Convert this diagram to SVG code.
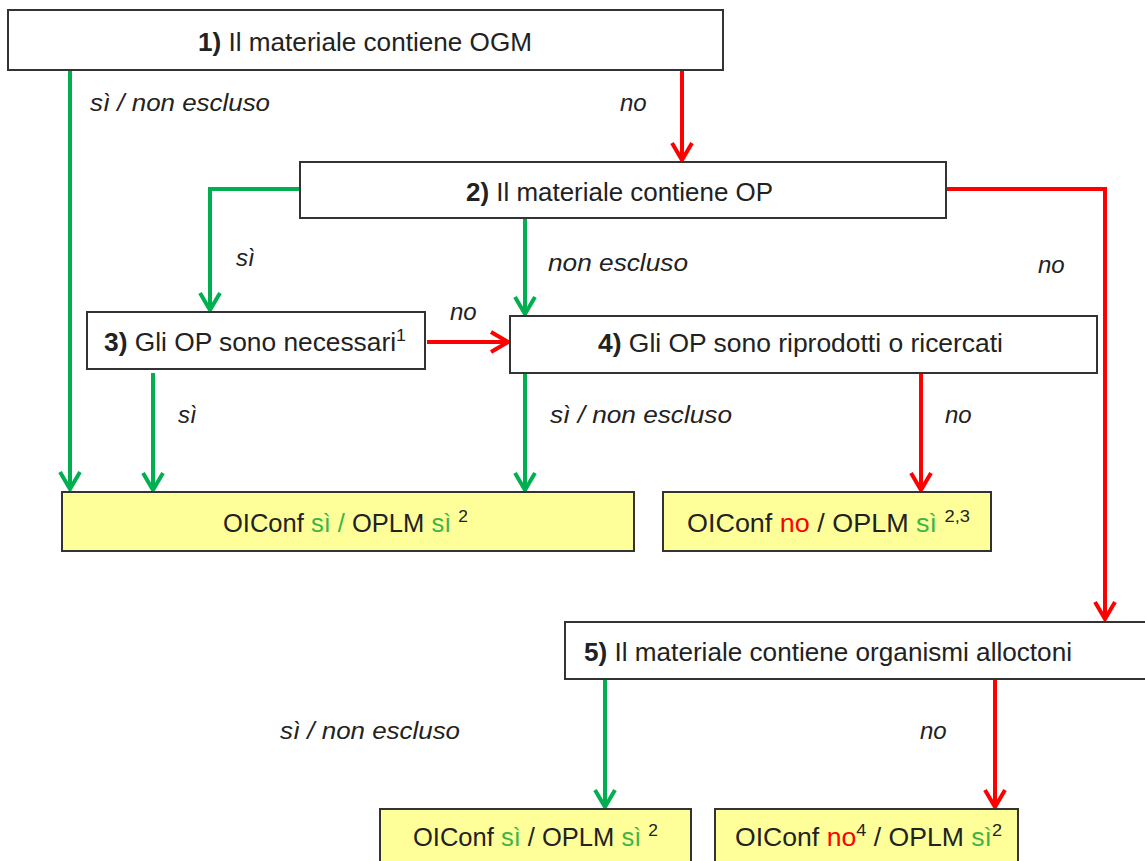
<svg xmlns="http://www.w3.org/2000/svg" width="1145" height="861" viewBox="0 0 1145 861">
<style>
  .box{fill:#ffffff;stroke:#333333;stroke-width:2}
  .res{fill:#FFFF99;stroke:#333333;stroke-width:2}
  .t{font-family:"Liberation Sans",Arial,sans-serif;font-size:25px;fill:#222222}
  .lab{font-family:"Liberation Sans",Arial,sans-serif;font-size:24px;font-style:italic;fill:#222222}
  .b{font-weight:bold}
  .g{fill:#3CB44B}
  .r{fill:#FF0000}
  .sup{font-size:17px}
  .cg{fill:none;stroke:#00B050;stroke-width:4}
  .cr{fill:none;stroke:#FF0000;stroke-width:4}
</style>
<defs>
  <marker id="ag" viewBox="0 0 24 24" markerWidth="24" markerHeight="24" refX="21" refY="12" orient="auto" markerUnits="userSpaceOnUse">
    <path d="M4,2 L21,12 L4,22" fill="none" stroke="#00B050" stroke-width="4"/>
  </marker>
  <marker id="ar" viewBox="0 0 24 24" markerWidth="24" markerHeight="24" refX="21" refY="12" orient="auto" markerUnits="userSpaceOnUse">
    <path d="M4,2 L21,12 L4,22" fill="none" stroke="#FF0000" stroke-width="4"/>
  </marker>
</defs>
<rect width="1145" height="861" fill="#ffffff"/>

<g id="connectors">
  <path class="cg" d="M70,70 V489" marker-end="url(#ag)"/>
  <path class="cr" d="M682,67 V160" marker-end="url(#ar)"/>
  <path class="cg" d="M300,189 H210 V310" marker-end="url(#ag)"/>
  <path class="cg" d="M525,218 V314" marker-end="url(#ag)"/>
  <path class="cr" d="M946,189 H1105 V619" marker-end="url(#ar)"/>
  <path class="cr" d="M427,342 H508" marker-end="url(#ar)"/>
  <path class="cg" d="M153,373 V490" marker-end="url(#ag)"/>
  <path class="cg" d="M525,373 V490" marker-end="url(#ag)"/>
  <path class="cr" d="M921,373 V490" marker-end="url(#ar)"/>
  <path class="cg" d="M605,679 V807" marker-end="url(#ag)"/>
  <path class="cr" d="M995,679 V807" marker-end="url(#ar)"/>
  <text class="lab" x="90" y="111" textLength="180" lengthAdjust="spacingAndGlyphs">sì / non escluso</text>
  <text class="lab" x="620" y="111">no</text>
  <text class="lab" x="236" y="266">sì</text>
  <text class="lab" x="548" y="271" textLength="140" lengthAdjust="spacingAndGlyphs">non escluso</text>
  <text class="lab" x="1038" y="273">no</text>
  <text class="lab" x="450" y="320">no</text>
  <text class="lab" x="178" y="423">sì</text>
  <text class="lab" x="550" y="423" textLength="182" lengthAdjust="spacingAndGlyphs">sì / non escluso</text>
  <text class="lab" x="945" y="423">no</text>
  <text class="lab" x="280" y="739" textLength="180" lengthAdjust="spacingAndGlyphs">sì / non escluso</text>
  <text class="lab" x="920" y="739">no</text>
</g>

<g id="n1">
  <rect class="box" x="8" y="10" width="715" height="60"/>
  <text class="t" x="198" y="51" textLength="334" lengthAdjust="spacingAndGlyphs"><tspan class="b">1)</tspan> Il materiale contiene OGM</text>
</g>
<g id="n2">
  <rect class="box" x="300" y="162" width="646" height="56"/>
  <text class="t" x="466" y="201" textLength="307" lengthAdjust="spacingAndGlyphs"><tspan class="b">2)</tspan> Il materiale contiene OP</text>
</g>
<g id="n3">
  <rect class="box" x="87" y="312" width="338" height="57"/>
  <text class="t" x="104" y="351" textLength="302" lengthAdjust="spacingAndGlyphs"><tspan class="b">3)</tspan> Gli OP sono necessari<tspan class="sup" dy="-10">1</tspan></text>
</g>
<g id="n4">
  <rect class="box" x="510" y="316" width="587" height="57"/>
  <text class="t" x="598" y="352" textLength="405" lengthAdjust="spacingAndGlyphs"><tspan class="b">4)</tspan> Gli OP sono riprodotti  o ricercati</text>
</g>
<g id="n5">
  <rect class="box" x="565" y="622" width="590" height="57"/>
  <text class="t" x="584" y="661" textLength="488" lengthAdjust="spacingAndGlyphs"><tspan class="b">5)</tspan> Il materiale contiene organismi  alloctoni</text>
</g>
<g id="r1">
  <rect class="res" x="62" y="492" width="572" height="59"/>
  <text class="t" x="223" y="532" textLength="245" lengthAdjust="spacingAndGlyphs">OIConf <tspan class="g">sì /</tspan> OPLM <tspan class="g">sì</tspan> <tspan class="sup" dy="-10">2</tspan></text>
</g>
<g id="r2">
  <rect class="res" x="663" y="492" width="328" height="59"/>
  <text class="t" x="687" y="532" textLength="283" lengthAdjust="spacingAndGlyphs">OIConf <tspan class="r">no</tspan> / OPLM <tspan class="g">sì</tspan> <tspan class="sup" dy="-10">2,3</tspan></text>
</g>
<g id="r3">
  <rect class="res" x="380" y="809" width="311" height="60"/>
  <text class="t" x="413" y="846" textLength="245" lengthAdjust="spacingAndGlyphs">OIConf <tspan class="g">sì</tspan> / OPLM <tspan class="g">sì</tspan> <tspan class="sup" dy="-10">2</tspan></text>
</g>
<g id="r4">
  <rect class="res" x="715" y="809" width="303" height="60"/>
  <text class="t" x="735" y="846" textLength="267" lengthAdjust="spacingAndGlyphs">OIConf <tspan class="r">no</tspan><tspan class="sup" dy="-10">4</tspan><tspan dy="10"> / OPLM </tspan><tspan class="g">sì</tspan><tspan class="sup" dy="-10">2</tspan></text>
</g>
</svg>
